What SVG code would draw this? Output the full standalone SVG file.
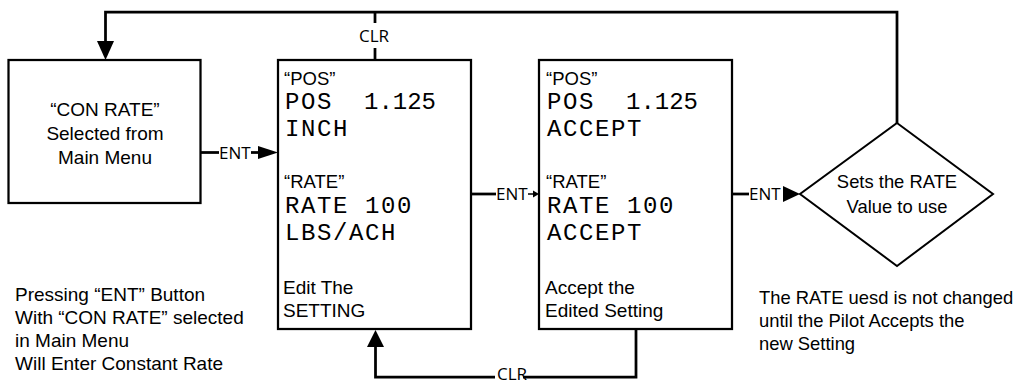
<svg xmlns="http://www.w3.org/2000/svg" width="1018" height="385" viewBox="0 0 1018 385">
<style>
.box{fill:#fff;stroke:#000;stroke-width:2.25}
.dia{fill:#fff;stroke:#000;stroke-width:2}
.ln{fill:none;stroke:#000;stroke-width:2.75}
.ah{fill:#000;stroke:none}
.t{font-family:"Liberation Sans",Arial,sans-serif;font-size:19px;fill:#000}
.n{font-family:"Liberation Sans",Arial,sans-serif;font-size:18.4px;fill:#000}
.q{font-family:"Liberation Sans",Arial,sans-serif;font-size:18.5px;fill:#000}
.c{text-anchor:middle}
.lbl{font-family:"Open Sans","Liberation Sans",sans-serif;font-size:17px;fill:#000}
.lcd{font-family:"Liberation Mono","DejaVu Sans Mono",monospace;font-size:24px;letter-spacing:1.6px;fill:#000}
</style>
<rect width="1018" height="385" fill="#fff"/>
<g id="connectors">
  <polyline class="ln" points="897,123 897,12 105.5,12 105.5,43"/>
  <polygon class="ah" points="97,41 114,41 105.5,60"/>
  <line class="ln" x1="375" y1="12" x2="375" y2="23"/>
  <line class="ln" x1="375" y1="48" x2="375" y2="60"/>
  <text class="lbl c" x="374" y="42">CLR</text>
  <line class="ln" x1="201" y1="152.5" x2="219" y2="152.5"/>
  <text class="lbl" x="219" y="158.5">ENT</text>
  <line class="ln" x1="251" y1="152.5" x2="260" y2="152.5"/>
  <polygon class="ah" points="258,146 278,152.5 258,159"/>
  <line class="ln" x1="471" y1="194" x2="496" y2="194"/>
  <text class="lbl" x="496" y="200">ENT</text>
  <line x1="528" y1="194" x2="534" y2="194" stroke="#000" stroke-width="1.5"/>
  <polygon class="ah" points="533,190.5 539,194 533,197.5"/>
  <line class="ln" x1="732" y1="194" x2="749" y2="194"/>
  <text class="lbl" x="749" y="200">ENT</text>
  <polygon class="ah" points="783,186 800,194 783,202"/>
  <polyline class="ln" points="636,329 636,377 523,377"/>
  <polyline class="ln" points="495,377 375.5,377 375.5,345"/>
  <polygon class="ah" points="367,347 384,347 375.5,330"/>
  <text class="lbl" x="497" y="380" font-size="16">CLR</text>
</g>
<g id="node-conrate">
  <rect class="box" x="8.5" y="60" width="192" height="143"/>
  <text class="t c" x="105" y="116">“CON RATE”</text>
  <text class="t c" x="105" y="140">Selected from</text>
  <text class="t c" x="105" y="164">Main Menu</text>
</g>
<g id="node-edit">
  <rect class="box" x="278" y="60" width="193" height="269"/>
  <text class="q" x="284" y="85">“POS”</text>
  <text class="lcd" x="285" y="109">POS <tspan x="364" letter-spacing="0">1.125</tspan></text>
  <text class="lcd" x="285" y="136">INCH</text>
  <text class="q" x="284" y="188">“RATE”</text>
  <text class="lcd" x="285" y="213">RATE 100</text>
  <text class="lcd" x="285" y="240">LBS/ACH</text>
  <text class="t" x="283" y="294">Edit The</text>
  <text class="t" x="283" y="317">SETTING</text>
</g>
<g id="node-accept">
  <rect class="box" x="539" y="60" width="193" height="269"/>
  <text class="q" x="546" y="85">“POS”</text>
  <text class="lcd" x="547" y="109">POS <tspan x="626" letter-spacing="0">1.125</tspan></text>
  <text class="lcd" x="547" y="136">ACCEPT</text>
  <text class="q" x="546" y="188">“RATE”</text>
  <text class="lcd" x="547" y="213">RATE 100</text>
  <text class="lcd" x="547" y="240">ACCEPT</text>
  <text class="t" x="545" y="294">Accept the</text>
  <text class="t" x="545" y="317">Edited Setting</text>
</g>
<g id="node-sets">
  <polygon class="dia" points="897,123 993,194 897,266 800,194"/>
  <text class="n c" x="897" y="188">Sets the RATE</text>
  <text class="n c" x="897" y="213">Value to use</text>
</g>
<g id="note-left">
  <text class="t" x="15" y="301">Pressing “ENT” Button</text>
  <text class="t" x="15" y="324">With “CON RATE” selected</text>
  <text class="t" x="15" y="347">in Main Menu</text>
  <text class="t" x="15" y="370">Will Enter Constant Rate</text>
</g>
<g id="note-right">
  <text class="n" x="759" y="304">The RATE uesd is not changed</text>
  <text class="n" x="759" y="327">until the Pilot Accepts the</text>
  <text class="n" x="759" y="350">new Setting</text>
</g>
</svg>
